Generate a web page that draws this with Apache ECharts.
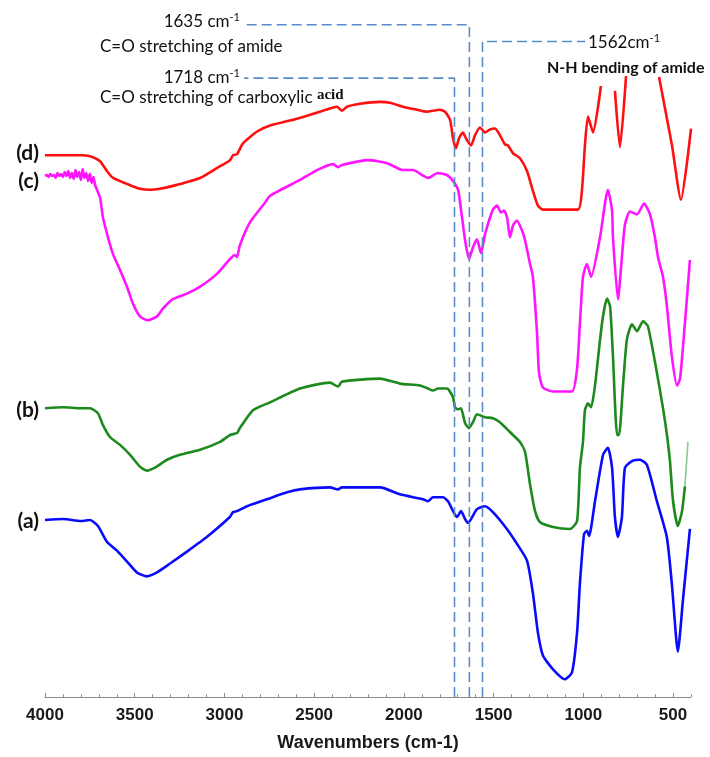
<!DOCTYPE html>
<html>
<head>
<meta charset="utf-8">
<title>FTIR spectra</title>
<script src="https://cdn.jsdelivr.net/npm/echarts@6/dist/echarts.min.js"></script>
<style>
  html, body { margin: 0; padding: 0; background: #ffffff; }
  #chart { width: 710px; height: 757px; }
</style>
</head>
<body>
<div id="chart"></div>
<script>
// FTIR spectra, stacked with vertical offsets: [wavenumber (cm-1), transmittance (a.u., offset)]
const spectrumA = [
  [4000,179],[3900,180],[3800,178],[3749,179],[3705,173],[3655,157],[3599,148],[3543,137],[3488,126],
  [3432,122],[3376,126],[3303,135],[3209,147],[3097,162],[2970,182],[2952,187],[2930,188],[2874,193],
  [2763,200],[2651,207],[2579,210],[2412,212],[2367,210],[2345,212],[2133,212],[2022,205],[1893,200],
  [1866,198],[1838,202],[1782,202],[1754,198],[1726,188],[1704,182],[1682,188],[1659,180],[1643,176],
  [1593,190],[1548,193],[1504,187],[1426,170],[1370,155],[1314,138],[1281,105],[1253,65],[1225,42],
  [1169,28],[1103,18],[1063,25],[1035,65],[1019,115],[996,165],[980,168],[968,163],[935,198],[890,245],
  [863,252],[840,232],[824,182],[807,162],[785,182],[768,232],[724,239],[685,240],[646,235],[590,198],
  [535,162],[507,115],[473,46],[445,98],[406,170]
];

const spectrumB = [
  [4000,292],[3900,293],[3800,292],[3749,292],[3705,287],[3677,275],[3638,263],[3582,255],[3526,245],
  [3471,233],[3432,229],[3387,232],[3320,240],[3248,245],[3136,250],[3025,258],[2969,265],[2930,267],
  [2914,272],[2841,290],[2746,298],[2579,312],[2412,318],[2367,314],[2345,319],[2133,322],[2022,317],
  [1910,315],[1866,312],[1838,310],[1810,312],[1760,312],[1726,303],[1715,293],[1698,291],[1682,292],
  [1659,277],[1637,272],[1615,278],[1593,286],[1548,283],[1504,282],[1465,278],[1409,268],[1353,258],
  [1325,248],[1297,215],[1269,188],[1242,177],[1169,172],[1074,170],[1035,178],[1019,232],[1002,258],
  [991,290],[974,297],[957,293],[935,315],[896,378],[868,403],[851,395],[835,345],[812,265],[801,265],
  [779,315],[757,362],[729,377],[701,370],[667,380],[640,375],[590,328],[556,292],[534,265],[517,238],
  [500,198],[473,173],[450,188],[434,213]
];
// faint end of spectrum (b)
const spectrumBTail = [[434,213],[417,258]];

const spectrumC = [
  [4000,527],[3990,528],[3980,526],[3970,529],[3960,527],[3950,528],[3940,525],[3930,530],[3920,527],
  [3910,529],[3900,526],[3890,531],[3880,527],[3870,532],[3860,525],[3850,530],[3840,524],[3830,533],
  [3820,526],[3810,531],[3800,523],[3790,534],[3780,525],[3770,530],[3760,522],[3750,529],[3740,520],
  [3730,526],[3721,518],[3693,505],[3677,485],[3649,465],
  [3621,448],[3582,432],[3543,415],[3510,398],[3471,385],[3427,381],[3376,385],[3342,393],[3292,402],
  [3209,408],[3136,415],[3042,428],[2969,443],[2941,447],[2930,445],[2914,457],[2858,480],[2774,500],
  [2746,507],[2579,523],[2484,533],[2395,539],[2367,536],[2345,538],[2245,542],[2200,543],[2094,540],
  [2005,533],[1949,533],[1899,528],[1866,525],[1810,530],[1760,528],[1726,522],[1698,513],[1676,485],
  [1659,462],[1637,443],[1615,455],[1593,463],[1570,449],[1548,468],[1520,485],[1504,493],[1481,497],
  [1459,490],[1442,492],[1425,485],[1409,465],[1392,477],[1370,482],[1342,472],[1325,462],[1297,438],
  [1281,425],[1258,368],[1247,328],[1225,313],[1169,309],[1063,309],[1035,332],[1019,378],[1002,425],
  [980,438],[957,425],[907,465],[863,513],[840,492],[835,465],[807,402],[785,445],[768,478],[740,491],
  [701,488],[662,499],[628,488],[601,465],[584,445],[556,425],[534,395],[507,345],[478,315],[461,322],
  [434,378],[406,442]
];

const spectrumD = [
  [4000,548],[3900,548],[3800,548],[3749,547],[3693,542],[3655,532],[3621,525],
  [3543,519],[3471,514],[3415,513],[3360,514],[3265,518],[3136,525],[3042,535],[2969,543],[2952,548],
  [2930,549],[2897,560],[2818,572],[2746,578],[2635,583],[2540,588],[2451,593],[2373,597],[2345,593],
  [2317,597],[2245,600],[2133,602],[2077,601],[2005,597],[1927,594],[1871,592],[1838,593],[1799,594],
  [1771,592],[1743,584],[1726,565],[1710,555],[1693,565],[1671,571],[1654,565],[1626,558],[1604,568],
  [1576,576],[1548,571],[1520,574],[1493,575],[1470,570],[1437,559],[1420,558],[1392,550],[1353,545],
  [1314,532],[1281,512],[1253,497],[1225,493],[1030,493],[1008,512],[991,558],[974,587],[946,571],
  [902,618],[860,'-'],[824,613],[796,556],[762,628],[680,'-'],[578,627],[534,585],[506,558],[456,503],
  [400,575]
];

const sampleNames = ['(a)', '(b)', '(c)', '(d)'];
const sampleColors = ['#0a0aff', '#1e8a1e', '#ff14ff', '#ff1010'];
const spectra = [spectrumA, spectrumB, spectrumC, spectrumD];

// band assignments: wavenumber, leader height, x where the leader's horizontal part ends
const bandWave = [1718, 1635, 1562];
const bandLeaderTop = [626, 680, 663];
const bandLeaderEnd = [2890, 2890, 990];

const majorTicks = [4000, 3500, 3000, 2500, 2000, 1500, 1000, 500];

const chart = echarts.init(document.getElementById('chart'), null, { renderer: 'canvas' });

function spectrumSeries(points, color, name) {
  return {
    type: 'line',
    name: name,
    showSymbol: false,
    symbol: 'none',
    smooth: 0.2,
    connectNulls: false,
    lineStyle: { color: color, width: 2.6 },
    data: points,
    z: 3,
    silent: true
  };
}

const series = spectra.map((pts, i) => spectrumSeries(pts, sampleColors[i], sampleNames[i]));
series.push({
  type: 'line', showSymbol: false, symbol: 'none', silent: true,
  lineStyle: { color: '#8cc88c', width: 1.6 }, data: spectrumBTail, z: 2
});

// dashed leader lines marking the amide / carboxylic bands
bandWave.forEach((w, i) => {
  series.push({
    type: 'line',
    showSymbol: false,
    symbol: 'none',
    silent: true,
    lineStyle: { color: '#5a8bc9', width: 1.6, type: [10, 5] },
    data: [[w, 0], [w, bandLeaderTop[i]], [bandLeaderEnd[i], bandLeaderTop[i]]],
    z: 4
  });
});

const calloutFont = 'Lato, "Open Sans", sans-serif';
const supStyle = { fontSize: 11, fontFamily: calloutFont, fill: '#111', padding: [0, 0, 9, 0] };

const graphic = [
  {
    type: 'text', x: 240, y: 22,
    style: {
      text: '{n|1635 cm}{s|-1}', align: 'right', verticalAlign: 'middle',
      rich: { n: { fontSize: 17, fontFamily: calloutFont, fill: '#111' }, s: supStyle }
    }
  },
  {
    type: 'text', x: 100, y: 47,
    style: { text: 'C=O stretching of amide', font: '17px ' + calloutFont, fill: '#111', align: 'left', verticalAlign: 'middle' }
  },
  {
    type: 'text', x: 240, y: 78,
    style: {
      text: '{n|1718 cm}{s|-1}', align: 'right', verticalAlign: 'middle',
      rich: { n: { fontSize: 17, fontFamily: calloutFont, fill: '#111' }, s: supStyle }
    }
  },
  {
    type: 'text', x: 100, y: 98,
    style: {
      text: '{n|C=O stretching of carboxylic }{s|acid}', align: 'left', verticalAlign: 'middle',
      rich: {
        n: { fontSize: 17, fontFamily: calloutFont, fill: '#111' },
        s: { fontSize: 15, fontFamily: '"Liberation Serif", "DejaVu Serif", serif', fontWeight: 'bold', fill: '#111', padding: [0, 0, 5, 0] }
      }
    }
  },
  {
    type: 'text', x: 588, y: 43,
    style: {
      text: '{n|1562cm}{s|-1}', align: 'left', verticalAlign: 'middle',
      rich: { n: { fontSize: 17, fontFamily: calloutFont, fill: '#111' }, s: supStyle }
    }
  },
  {
    type: 'text', x: 547, y: 68,
    style: { text: 'N-H bending of amide', font: 'bold 16px ' + calloutFont, fill: '#111', align: 'left', verticalAlign: 'middle' }
  }
];

const axisFont = '"Liberation Sans", Arial, sans-serif';

const option = {
  animation: false,
  backgroundColor: '#ffffff',
  grid: { left: 45, right: 19, top: 0, bottom: 52, containLabel: false },
  xAxis: [
    {
      type: 'value',
      inverse: true,
      min: 400,
      max: 4000,
      position: 'bottom',
      name: 'Wavenumbers (cm-1)',
      nameLocation: 'middle',
      nameGap: 37,
      nameTextStyle: { fontFamily: axisFont, fontWeight: 'bold', fontSize: 18, color: '#1a1a1a' },
      axisLine: { show: true, lineStyle: { color: '#8a8a8a', width: 1 } },
      axisTick: { show: true, inside: true, length: 4, customValues: majorTicks, lineStyle: { color: '#8a8a8a' } },
      axisLabel: {
        show: true, customValues: majorTicks, margin: 10,
        formatter: (v) => String(v),
        fontFamily: axisFont, fontWeight: 'bold', fontSize: 17, color: '#1a1a1a'
      },
      splitLine: { show: false }
    },
    {
      type: 'value',
      inverse: true,
      min: 400,
      max: 4000,
      interval: 100,
      position: 'bottom',
      axisLine: { show: false },
      axisTick: { show: true, inside: true, length: 2.5, lineStyle: { color: '#8a8a8a' } },
      axisLabel: { show: false },
      splitLine: { show: false }
    }
  ],
  yAxis: { type: 'value', min: 0, max: 705, show: false },
  series: series,
  graphic: graphic
};

chart.setOption(option);

// sample tags placed just left of each spectrum's first point
const tagOffsetY = [1, 2, 5, -2];
const tags = spectra.map((pts, i) => {
  const p = chart.convertToPixel({ xAxisIndex: 0, yAxisIndex: 0 }, pts[0]);
  return {
    type: 'text',
    x: p[0] - 6,
    y: p[1] + tagOffsetY[i],
    style: {
      text: sampleNames[i],
      font: 'bold 21px ' + calloutFont,
      fill: '#111',
      align: 'right',
      verticalAlign: 'middle'
    }
  };
});
chart.setOption({ graphic: graphic.concat(tags) });
</script>
</body>
</html>
